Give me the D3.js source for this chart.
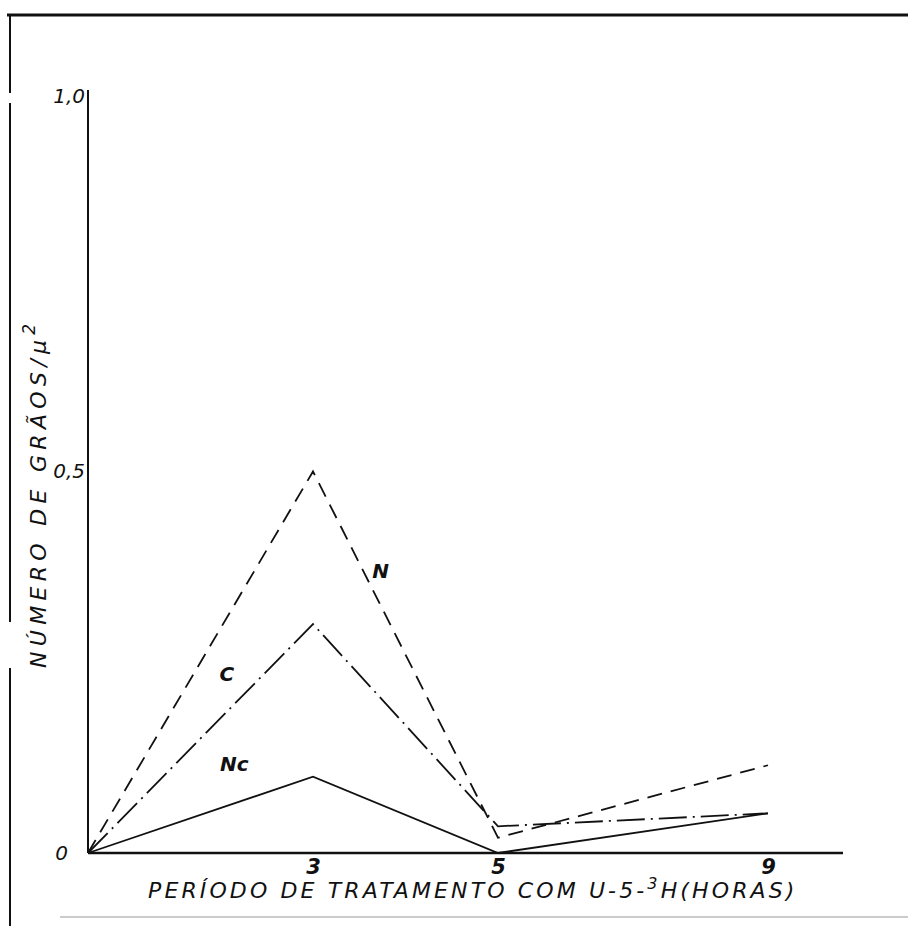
<!DOCTYPE html>
<html>
<head>
<meta charset="utf-8">
<script src="https://cdn.jsdelivr.net/npm/d3@7"></script>
<style>
  html, body { margin: 0; padding: 0; background: #fff; }
  svg text { font-family: "DejaVu Sans", sans-serif; font-style: italic; fill: #111; }
</style>
</head>
<body>
<div id="chart"></div>
<script>
// Grain count per μ² against U-5-3H treatment period (hand drawn figure)

// Data
const hours = [0, 3, 5, 9];
const seriesNames = ["N", "C", "Nc"];
const valuesN = [0, 0.5, 0.02, 0.115];
const valuesC = [0, 0.3, 0.035, 0.052];
const valuesNc = [0, 0.1, 0, 0.052];
const xTickValues = [3, 5, 9];
const yTickValues = [0, 0.5, 1.0];
const yTickLabels = ["0", "0,5", "1,0"];

// Page and plot layout
const W = 908, H = 926;
const plot = {left: 88, right: 843, top: 90, bottom: 853};

const svg = d3.select("#chart")
    .append("svg")
        .attr("width", W)
        .attr("height", H);

// The x axis of the drawing is not evenly spaced, so use a piecewise scale
const x = d3.scaleLinear()
    .domain(hours)
    .range([88, 313, 498, 768]);

const y = d3.scaleLinear()
    .domain([0, 1])
    .range([plot.bottom, plot.top]);

// Spread the letters of a text so that it covers a given width
function fitText(sel, width) {
    const node = sel.node();
    const len = node.getComputedTextLength();
    const n = node.textContent.length;
    sel.attr("letter-spacing", Math.max(0, (width - len) / n));
}

// Frame of the scanned page
const frame = svg.append("g").attr("stroke", "#111").attr("fill", "none");
frame.append("line").attr("x1", 7).attr("x2", W).attr("y1", 15).attr("y2", 15).attr("stroke-width", 3);
[[15, 93], [103, 622], [668, 926]].forEach(s => {
    frame.append("line").attr("x1", 10).attr("x2", 10).attr("y1", s[0]).attr("y2", s[1]).attr("stroke-width", 2);
});
svg.append("line")
    .attr("x1", 60).attr("x2", W).attr("y1", 917).attr("y2", 917)
    .attr("stroke", "#bbb").attr("stroke-width", 1.5);

// Axes
const xAxis = svg.append("g")
    .attr("transform", `translate(0,${plot.bottom})`)
    .call(d3.axisBottom(x).tickValues(xTickValues).tickSize(0).tickPadding(6));
xAxis.select(".domain").remove();
xAxis.selectAll("text")
    .style("font-size", "21px")
    .style("font-weight", "bold")
    .attr("fill", "#111");

svg.append("line")
    .attr("x1", plot.left).attr("x2", plot.right)
    .attr("y1", plot.bottom).attr("y2", plot.bottom)
    .attr("stroke", "#111").attr("stroke-width", 2.5);

const yAxis = svg.append("g")
    .attr("transform", `translate(${plot.left},0)`)
    .call(d3.axisLeft(y).tickValues(yTickValues).tickSize(0).tickPadding(3)
        .tickFormat((d, i) => yTickLabels[i]));
yAxis.select(".domain").remove();
yAxis.selectAll("text")
    .style("font-size", "20px")
    .attr("fill", "#111")
    .attr("dy", (d, i) => i === 2 ? "0.6em" : "0.3em")
    .attr("dx", (d, i) => i === 0 ? -17 : 0);

svg.append("line")
    .attr("x1", plot.left).attr("x2", plot.left)
    .attr("y1", plot.top).attr("y2", plot.bottom)
    .attr("stroke", "#111").attr("stroke-width", 2);

// Lines
const series = [
    {name: "N", values: valuesN, dash: "15,9"},
    {name: "C", values: valuesC, dash: "28,6,2,6"},
    {name: "Nc", values: valuesNc, dash: null}
];

const line = d3.line()
    .x((d, i) => x(hours[i]))
    .y(d => y(d));

svg.append("g")
    .selectAll("path")
    .data(series)
    .join("path")
        .attr("d", d => line(d.values))
        .attr("fill", "none")
        .attr("stroke", "#111")
        .attr("stroke-width", 1.8)
        .attr("stroke-dasharray", d => d.dash);

// Series labels placed next to their lines
const seriesLabelPos = {N: [3.73, 0.36], C: [1.85, 0.225], Nc: [1.95, 0.107]};
svg.append("g")
    .selectAll("text")
    .data(seriesNames)
    .join("text")
        .attr("x", d => x(seriesLabelPos[d][0]))
        .attr("y", d => y(seriesLabelPos[d][1]))
        .attr("text-anchor", "middle")
        .style("font-size", "20px")
        .style("font-weight", "bold")
        .text(d => d);

// X axis title
const xt = svg.append("text")
    .attr("x", 148).attr("y", 898)
    .style("font-size", "22px");
xt.append("tspan").text("PERÍODO  DE  TRATAMENTO  COM  U-5-");
xt.append("tspan").attr("dy", -9).style("font-size", "16px").text("3");
xt.append("tspan").attr("dy", 9).text("H(HORAS)");
fitText(xt, 662);

// Y axis title
const yt = svg.append("text")
    .attr("transform", "translate(46,668) rotate(-90)")
    .style("font-size", "22px");
yt.append("tspan").text("NÚMERO  DE  GRÃOS/μ");
yt.append("tspan").attr("dy", -11).style("font-size", "17px").text("2");
fitText(yt, 360);
</script>
</body>
</html>
